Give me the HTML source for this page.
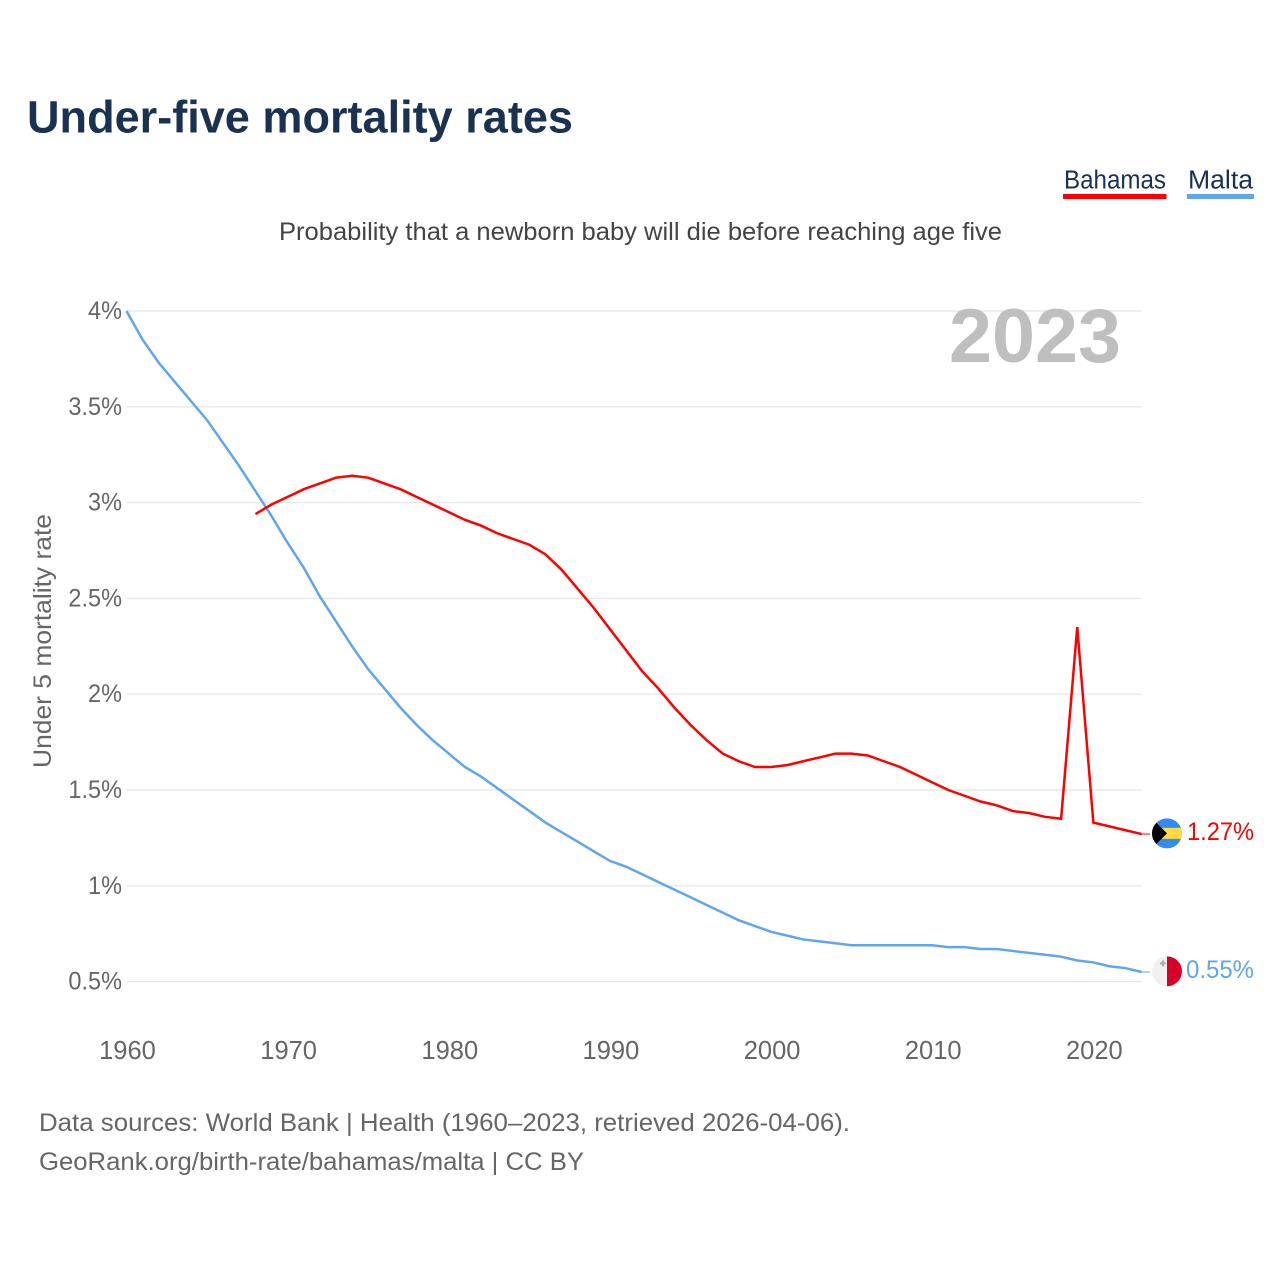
<!DOCTYPE html>
<html lang="en">
<head>
<meta charset="utf-8">
<title>Under-five mortality rates</title>
<style>
html,body{margin:0;padding:0;background:#fff;width:1280px;height:1280px;overflow:hidden}
svg{display:block}
text{font-family:"Liberation Sans",sans-serif}
</style>
</head>
<body>
<svg id="chart" xmlns="http://www.w3.org/2000/svg" width="1280" height="1280" viewBox="0 0 1280 1280">
  <text x="27" y="132.5" font-size="45" font-weight="700" fill="#1a3152" textLength="546" lengthAdjust="spacingAndGlyphs">Under-five mortality rates</text>

  <g>
    <g>
      <text x="1064" y="188.5" font-size="25.5" fill="#1a3152" textLength="102" lengthAdjust="spacingAndGlyphs">Bahamas</text>
      <rect x="1063" y="194" width="103.5" height="5" fill="#ff0000"/>
    </g>
    <g>
      <text x="1188" y="188.5" font-size="25.5" fill="#1a3152" textLength="65" lengthAdjust="spacingAndGlyphs">Malta</text>
      <rect x="1187" y="194" width="67" height="5" fill="#60a5ee"/>
    </g>
  </g>

  <text x="279" y="240" font-size="25" fill="#444444" textLength="723" lengthAdjust="spacingAndGlyphs">Probability that a newborn baby will die before reaching age five</text>

  <g id="grid"></g>
  <g id="yticks"></g>
  <g id="xticks"></g>

  <text x="949" y="362" font-size="76" font-weight="700" fill="#bfbfbf" textLength="172" lengthAdjust="spacingAndGlyphs">2023</text>

  <text transform="translate(51,768) rotate(-90)" x="0" y="0" font-size="25" fill="#666666" textLength="254" lengthAdjust="spacingAndGlyphs">Under 5 mortality rate</text>

  <g id="series"></g>

  <defs>
    <clipPath id="flag-clip"><circle cx="0" cy="0" r="15"/></clipPath>
  </defs>

  <g id="flag-bahamas">
    <g clip-path="url(#flag-clip)">
      <rect x="-15" y="-15" width="30" height="30" fill="#338af3"/>
      <rect x="-15" y="-5.5" width="30" height="11" fill="#ffda44"/>
      <path d="M-15,-15 L0,0 L-15,15 Z" fill="#000000"/>
    </g>
  </g>
  <g id="flag-malta">
    <g clip-path="url(#flag-clip)">
      <rect x="-15" y="-15" width="15" height="30" fill="#f0f0f0"/>
      <rect x="0" y="-15" width="15" height="30" fill="#d80027"/>
      <path d="M-7,-9 h2 v-2 h2 v2 h2 v2 h-2 v2 h-2 v-2 h-2 z" fill="#acabb1"/>
    </g>
  </g>
  <text id="value-bahamas" x="1187" font-size="25" fill="#ff0000" textLength="67" lengthAdjust="spacingAndGlyphs">1.27%</text>
  <text id="value-malta" x="1186" font-size="25" fill="#60a5ee" textLength="68" lengthAdjust="spacingAndGlyphs">0.55%</text>

  <text x="39" y="1131" font-size="25" fill="#666666" textLength="811" lengthAdjust="spacingAndGlyphs">Data sources: World Bank | Health (1960–2023, retrieved 2026-04-06).</text>
  <text x="39" y="1170" font-size="25" fill="#666666" textLength="545" lengthAdjust="spacingAndGlyphs">GeoRank.org/birth-rate/bahamas/malta | CC BY</text>
</svg>

<script>
const years = [1960,1961,1962,1963,1964,1965,1966,1967,1968,1969,1970,1971,1972,1973,1974,1975,1976,1977,1978,1979,1980,1981,1982,1983,1984,1985,1986,1987,1988,1989,1990,1991,1992,1993,1994,1995,1996,1997,1998,1999,2000,2001,2002,2003,2004,2005,2006,2007,2008,2009,2010,2011,2012,2013,2014,2015,2016,2017,2018,2019,2020,2021,2022,2023];
const maltaValues = [4.00,3.85,3.73,3.63,3.53,3.43,3.31,3.19,3.06,2.93,2.79,2.66,2.51,2.38,2.25,2.13,2.03,1.93,1.84,1.76,1.69,1.62,1.57,1.51,1.45,1.39,1.33,1.28,1.23,1.18,1.13,1.10,1.06,1.02,0.98,0.94,0.90,0.86,0.82,0.79,0.76,0.74,0.72,0.71,0.70,0.69,0.69,0.69,0.69,0.69,0.69,0.68,0.68,0.67,0.67,0.66,0.65,0.64,0.63,0.61,0.60,0.58,0.57,0.55];
const bahamasValues = [null,null,null,null,null,null,null,null,2.94,2.99,3.03,3.07,3.10,3.13,3.14,3.13,3.10,3.07,3.03,2.99,2.95,2.91,2.88,2.84,2.81,2.78,2.73,2.65,2.55,2.45,2.34,2.23,2.12,2.03,1.93,1.84,1.76,1.69,1.65,1.62,1.62,1.63,1.65,1.67,1.69,1.69,1.68,1.65,1.62,1.58,1.54,1.50,1.47,1.44,1.42,1.39,1.38,1.36,1.35,2.35,1.33,1.31,1.29,1.27];
const yTickValues = [4,3.5,3,2.5,2,1.5,1,0.5];
const yTickLabels = ["4%","3.5%","3%","2.5%","2%","1.5%","1%","0.5%"];
const xTickValues = [1960,1970,1980,1990,2000,2010,2020];

const SVGNS = "http://www.w3.org/2000/svg";
const plotLeft = 126.5, plotRight = 1141.7, yearMin = 1960, yearMax = 2023;
const y4 = 311, pxPerUnit = 191.6;
function xScale(year){ return plotLeft + (year - yearMin) * (plotRight - plotLeft) / (yearMax - yearMin); }
function yScale(v){ return y4 + (4 - v) * pxPerUnit; }

const gridG = document.getElementById('grid');
const yTickG = document.getElementById('yticks');
const xTickG = document.getElementById('xticks');
const seriesG = document.getElementById('series');

yTickValues.forEach(function(v, i){
  const line = document.createElementNS(SVGNS, 'line');
  
  
  line.setAttribute('x1', plotLeft);
  line.setAttribute('x2', plotRight);
  line.setAttribute('y1', yScale(v));
  line.setAttribute('y2', yScale(v));
  line.setAttribute('stroke', '#e8e8e8');
  line.setAttribute('stroke-width', '1.4');
  gridG.appendChild(line);

  const t = document.createElementNS(SVGNS, 'text');
  
  
  t.setAttribute('x', 122);
  t.setAttribute('y', yScale(v) + 8);
  t.setAttribute('text-anchor', 'end');
  t.setAttribute('font-size', '25');
  t.setAttribute('fill', '#666666');
  t.textContent = yTickLabels[i];
  yTickG.appendChild(t);
  const len = t.getComputedTextLength();
  t.setAttribute('textLength', len * 0.94);
  t.setAttribute('lengthAdjust', 'spacingAndGlyphs');
});

xTickValues.forEach(function(yr){
  const t = document.createElementNS(SVGNS, 'text');
  
  
  t.setAttribute('x', xScale(yr) + 1);
  t.setAttribute('y', 1059);
  t.setAttribute('text-anchor', 'middle');
  t.setAttribute('font-size', '25.5');
  t.setAttribute('fill', '#666666');
  t.textContent = String(yr);
  xTickG.appendChild(t);
});

function buildPath(values){
  let d = '';
  values.forEach(function(v, i){
    if (v === null) return;
    d += (d ? ' L' : 'M') + xScale(years[i]).toFixed(2) + ',' + yScale(v).toFixed(2);
  });
  return d;
}

const maltaLine = document.createElementNS(SVGNS, 'path');


maltaLine.setAttribute('d', buildPath(maltaValues));
maltaLine.setAttribute('fill', 'none');
maltaLine.setAttribute('stroke', '#60a5ee');
maltaLine.setAttribute('stroke-width', '2.5');
seriesG.appendChild(maltaLine);

const bahamasLine = document.createElementNS(SVGNS, 'path');


bahamasLine.setAttribute('d', buildPath(bahamasValues));
bahamasLine.setAttribute('fill', 'none');
bahamasLine.setAttribute('stroke', '#ff0000');
bahamasLine.setAttribute('stroke-width', '2.5');
seriesG.appendChild(bahamasLine);

const lastMalta = yScale(maltaValues[maltaValues.length - 1]);
const lastBahamas = yScale(bahamasValues[bahamasValues.length - 1]);

const maltaConnector = document.createElementNS(SVGNS, 'line');


maltaConnector.setAttribute('x1', plotRight);
maltaConnector.setAttribute('x2', 1150);
maltaConnector.setAttribute('y1', lastMalta);
maltaConnector.setAttribute('y2', lastMalta);
maltaConnector.setAttribute('stroke', '#60a5ee');
maltaConnector.setAttribute('stroke-width', '1');
seriesG.appendChild(maltaConnector);

const bahamasConnector = document.createElementNS(SVGNS, 'line');


bahamasConnector.setAttribute('x1', plotRight);
bahamasConnector.setAttribute('x2', 1150);
bahamasConnector.setAttribute('y1', lastBahamas);
bahamasConnector.setAttribute('y2', lastBahamas);
bahamasConnector.setAttribute('stroke', '#ff0000');
bahamasConnector.setAttribute('stroke-width', '1');
seriesG.appendChild(bahamasConnector);

document.getElementById('flag-bahamas').setAttribute('transform', 'translate(1167,' + (lastBahamas - 0.7) + ')');
document.getElementById('flag-malta').setAttribute('transform', 'translate(1167,' + (lastMalta - 0.7) + ')');
const valueBahamas = document.getElementById('value-bahamas');
valueBahamas.setAttribute('y', lastBahamas + 6);
valueBahamas.textContent = bahamasValues[bahamasValues.length - 1].toFixed(2) + '%';
const valueMalta = document.getElementById('value-malta');
valueMalta.setAttribute('y', lastMalta + 6);
valueMalta.textContent = maltaValues[maltaValues.length - 1].toFixed(2) + '%';
</script>
</body>
</html>
